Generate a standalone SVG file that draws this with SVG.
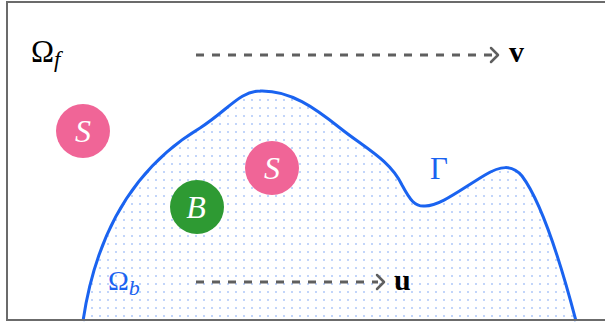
<svg xmlns="http://www.w3.org/2000/svg" width="605" height="327" viewBox="0 0 605 327">
<style>
.lbl{font-family:"Liberation Serif","Times New Roman",serif}
.circ-s{fill:#f06597}
.circ-b{fill:#2e9a33}
.ctext{font-family:"Liberation Serif",serif;font-style:italic;font-size:32px;fill:#ffffff;text-anchor:middle}
.flow{fill:none;stroke:#5f5f5f;stroke-width:3;stroke-dasharray:8 8}
.head{fill:none;stroke:#5f5f5f;stroke-width:2.5;stroke-linecap:round;stroke-linejoin:round}
</style>
<defs>
<pattern id="dots" x="0" y="0" width="8" height="8" patternUnits="userSpaceOnUse">
<rect x="3" y="3" width="2" height="2" fill="#c2d5fa"/>
</pattern>
</defs>
<rect x="0" y="0" width="605" height="327" fill="#ffffff"/>
<g id="body">
<path d="M83,321 C95,240 130,170 200,128 C228,110 240,91 260,91 C290,90 315,108 340,128 C365,148 390,160 402,185 C410,200 415,207 425,206 C440,206 460,190 485,175 C500,166 512,164 522,176 C540,200 560,260 576,321 Z" fill="url(#dots)" stroke="none"/>
<path d="M83,321 C95,240 130,170 200,128 C228,110 240,91 260,91 C290,90 315,108 340,128 C365,148 390,160 402,185 C410,200 415,207 425,206 C440,206 460,190 485,175 C500,166 512,164 522,176 C540,200 560,260 576,321" fill="none" stroke="#1a63f0" stroke-width="3"/>
</g>
<rect x="7" y="2" width="605" height="318" fill="none" stroke="#6b6b6b" stroke-width="2"/>
<g id="connectors">
<line class="flow" x1="196" y1="55" x2="492" y2="55"/>
<polyline class="head" points="491,48 498,55 491,62"/>
<line class="flow" x1="196" y1="282" x2="378" y2="282"/>
<polyline class="head" points="377,275 384,282 377,289"/>
</g>
<g id="S1"><circle class="circ-s" cx="83" cy="131" r="27"/><text class="ctext" x="83" y="142">S</text></g>
<g id="S2"><circle class="circ-s" cx="272" cy="168" r="27"/><text class="ctext" x="272" y="179">S</text></g>
<g id="B"><circle class="circ-b" cx="197" cy="207" r="27"/><text class="ctext" x="196" y="218">B</text></g>
<g id="labels">
<text class="lbl" x="31" y="62" font-size="31" fill="#000">Ω<tspan font-style="italic" font-size="23" dy="5">f</tspan></text>
<text class="lbl" x="509" y="62" font-size="30" font-weight="bold" fill="#000">v</text>
<text class="lbl" x="394" y="290" font-size="30" font-weight="bold" fill="#000">u</text>
<text class="lbl" x="430" y="179" font-size="31" fill="#1a63f0">Γ</text>
<text class="lbl" x="108" y="290" font-size="28" fill="#1a63f0">Ω<tspan font-style="italic" font-size="22" dy="5">b</tspan></text>
</g>
</svg>
